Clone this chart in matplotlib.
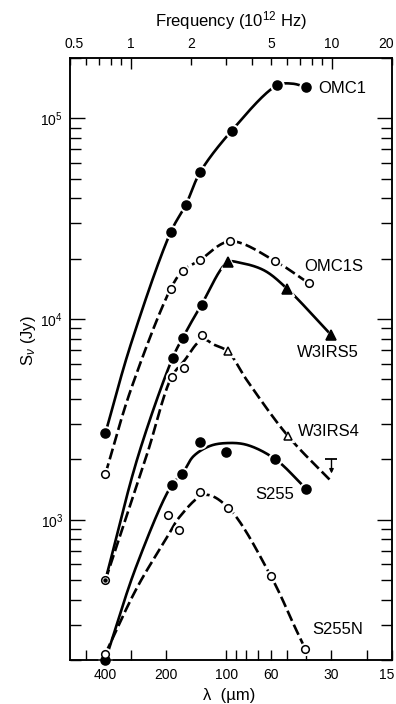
import numpy as np
import matplotlib
matplotlib.use('Agg')
import matplotlib.pyplot as plt
from matplotlib.transforms import ScaledTranslation

plt.rcParams['font.family'] = ['Liberation Sans', 'DejaVu Sans']
plt.rcParams['mathtext.fontset'] = 'custom'
plt.rcParams['mathtext.rm'] = 'Liberation Sans'
plt.rcParams['mathtext.it'] = 'Liberation Sans:italic'

# measured points (wavelength in um, flux in Jy)
omc1_lam = [400, 189, 159, 135, 94, 56, 40]
omc1_s = [2700, 27200, 37200, 54000, 87000, 146000, 143000]

omc1s_lam = [400, 189, 165, 136, 96, 57, 39]
omc1s_s = [1690, 14200, 17400, 19600, 24400, 19400, 15100]

w3irs5_circ_lam = [185, 165, 133]
w3irs5_circ_s = [6420, 8070, 11800]
w3irs5_tri_lam = [98.5, 50, 30]
w3irs5_tri_s = [19200, 14200, 8300]

w3irs4_circ_lam = [187, 163, 133]
w3irs4_circ_s = [5160, 5690, 8300]
w3irs4_tri_lam = [98.5, 49.5]
w3irs4_tri_s = [6900, 2620]
w3irs4_limit = (30, 2000)

w3_shared_lam = [400]
w3_shared_s = [500]

s255_lam = [400, 187, 166, 135, 100, 57, 40]
s255_s = [200, 1490, 1690, 2440, 2180, 2000, 1420]

s255n_lam = [400, 196, 172, 135, 98, 60, 40.6]
s255n_s = [215, 1050, 885, 1380, 1150, 522, 228]

# hand-drawn curves
omc1_curve_lam = [400, 300, 189, 159, 135, 94, 56, 47, 40]
omc1_curve_s = [2700, 7400, 27200, 37200, 54000, 87000, 146000, 149000, 143000]

omc1s_curve_lam = [400, 300, 189, 165, 136, 96, 57, 39]
omc1s_curve_s = [1690, 4400, 14200, 17400, 19600, 24400, 19400, 15100]

w3irs5_curve_lam = [400, 274, 185, 165, 133, 98.5, 86, 65, 50, 30]
w3irs5_curve_s = [500, 2100, 6420, 8070, 11800, 19200, 19100, 17500, 14200, 8300]

w3irs4_curve_lam = [400, 249, 187, 161, 138, 128, 116, 98.5, 79, 49.5, 30]
w3irs4_curve_s = [500, 2100, 5160, 6250, 7660, 7900, 7480, 6900, 4950, 2620, 1550]

s255_curve_lam = [400, 280, 187, 166, 146, 121, 100, 79, 57, 40]
s255_curve_s = [200, 590, 1490, 1690, 2070, 2330, 2410, 2360, 2000, 1420]

s255n_curve_lam = [400, 279, 198, 170, 128, 98, 60, 45.5, 40.6]
s255n_curve_s = [215, 457, 813, 1040, 1330, 1150, 522, 290, 228]

freq_major = [1, 10]
freq_minor = [0.5, 0.6, 0.7, 0.8, 0.9, 2, 3, 4, 5, 6, 7, 8, 9, 20]
freq_minor_labels = ['0.5', '', '', '', '', '2', '', '', '5', '', '', '', '', '20']
lam_major = [400, 200, 100, 60, 30, 15]
lam_minor = [500, 300, 90, 80, 70, 50, 40, 20]


def smooth(lam, s, n=40):
    # centripetal catmull-rom through the knots, in log-log space
    P = np.column_stack([np.log10(lam), np.log10(s)])
    P = np.vstack([2 * P[0] - P[1], P, 2 * P[-1] - P[-2]])
    out = []
    for i in range(1, len(P) - 2):
        p0, p1, p2, p3 = P[i - 1:i + 3]
        t0 = 0
        t1 = t0 + np.linalg.norm(p1 - p0) ** 0.5
        t2 = t1 + np.linalg.norm(p2 - p1) ** 0.5
        t3 = t2 + np.linalg.norm(p3 - p2) ** 0.5
        t = np.linspace(t1, t2, n)[:, None]
        a1 = (t1 - t) / (t1 - t0) * p0 + (t - t0) / (t1 - t0) * p1
        a2 = (t2 - t) / (t2 - t1) * p1 + (t - t1) / (t2 - t1) * p2
        a3 = (t3 - t) / (t3 - t2) * p2 + (t - t2) / (t3 - t2) * p3
        b1 = (t2 - t) / (t2 - t0) * a1 + (t - t0) / (t2 - t0) * a2
        b2 = (t3 - t) / (t3 - t1) * a2 + (t - t1) / (t3 - t1) * a3
        out.append((t2 - t) / (t2 - t1) * b1 + (t - t1) / (t2 - t1) * b2)
    out = 10 ** np.vstack(out)
    return out[:, 0], out[:, 1]


fig = plt.figure(figsize=(3.96, 7.04), dpi=100)
ax = fig.add_axes([70 / 396, 44 / 704, 322 / 396, 602 / 704])
ax.set_xscale('log')
ax.set_yscale('log')
ax.set_xlim(600, 15)
ax.set_ylim(200, 2e5)


def curve(lam, s, dashed=False):
    x, y = smooth(lam, s)
    kw = dict(dashes=(4.2, 1.6)) if dashed else {}
    ax.plot(x, y, color='k', lw=1.9, solid_capstyle='butt',
            dash_capstyle='butt', zorder=2, **kw)


def marks(lam, s, marker, filled, ms):
    ax.plot(lam, s, ls='none', marker=marker, ms=ms + 3, mfc='white',
            mec='white', zorder=3, clip_on=False)
    ax.plot(lam, s, ls='none', marker=marker, ms=ms,
            mfc='k' if filled else 'white', mec='k', mew=1.1,
            zorder=4, clip_on=False)


curve(omc1_curve_lam, omc1_curve_s)
curve(omc1s_curve_lam, omc1s_curve_s, dashed=True)
curve(w3irs5_curve_lam, w3irs5_curve_s)
curve(w3irs4_curve_lam, w3irs4_curve_s, dashed=True)
curve(s255_curve_lam, s255_curve_s)
curve(s255n_curve_lam, s255n_curve_s, dashed=True)

marks(omc1_lam, omc1_s, 'o', True, 6.5)
marks(omc1s_lam, omc1s_s, 'o', False, 5.5)
marks(w3irs5_circ_lam, w3irs5_circ_s, 'o', True, 6.5)
marks(w3irs5_tri_lam, w3irs5_tri_s, '^', True, 6.5)
marks(w3irs4_circ_lam, w3irs4_circ_s, 'o', False, 5.5)
marks(w3irs4_tri_lam, w3irs4_tri_s, '^', False, 5.5)
marks(w3_shared_lam, w3_shared_s, 'o', False, 5.5)
ax.plot(w3_shared_lam, w3_shared_s, 'o', ms=2.2, color='k', zorder=5)
marks(s255_lam, s255_s, 'o', True, 6.5)
marks(s255n_lam, s255n_s, 'o', False, 5.5)

# upper limit
ax.plot([w3irs4_limit[0]], [w3irs4_limit[1]], marker='_', ms=8, mew=1.3,
        color='k', zorder=4)
ax.annotate('', xy=(w3irs4_limit[0], w3irs4_limit[1] * 0.85),
            xytext=(w3irs4_limit[0], w3irs4_limit[1]),
            arrowprops=dict(arrowstyle='-|>', lw=1, color='k',
                            mutation_scale=6, shrinkA=0, shrinkB=0))

lab = dict(fontsize=12, va='center', ha='left')
ax.text(35, 1.41e5, 'OMC1', **lab)
ax.text(40.8, 1.82e4, 'OMC1S', **lab)
ax.text(44.4, 6.85e3, 'W3IRS5', **lab)
ax.text(44, 2.74e3, 'W3IRS4', **lab)
ax.text(72, 1.33e3, 'S255', **lab)
ax.text(37.4, 284, 'S255N', **lab)

ax.set_xticks(lam_major, [str(v) for v in lam_major])
ax.set_xticks(lam_minor, minor=True)
ax.xaxis.set_minor_formatter(matplotlib.ticker.NullFormatter())
ax.yaxis.set_minor_formatter(matplotlib.ticker.NullFormatter())
ax.tick_params(axis='x', which='both', direction='in', length=7, width=1,
               labelsize=10, pad=6, top=False)
ax.tick_params(axis='y', which='major', direction='in', length=10.8, width=1,
               labelsize=10, pad=5, right=True)
ax.tick_params(axis='y', which='minor', direction='in', length=8, width=1,
               right=True)

axt = ax.twiny()
axt.set_xscale('log')
axt.set_xlim(299.79 / 600, 299.79 / 15)
axt.set_xticks(freq_major, [str(v) for v in freq_major])
axt.set_xticks(freq_minor, freq_minor_labels, minor=True)
axt.tick_params(which='major', direction='in', length=8, width=1,
                labelsize=10, pad=5)
axt.tick_params(which='minor', direction='in', length=5, width=1,
                labelsize=10, pad=5)

for a in (ax, axt):
    for sp in a.spines.values():
        sp.set_linewidth(1.1)

ax.set_xlabel('λ  (µm)', fontsize=12)
ax.xaxis.set_label_coords(0.494, -0.047)
ax.set_ylabel(r'S$_{\nu}$ (Jy)', fontsize=12)
ax.yaxis.set_label_coords(-0.1, 0.53)
axt.set_xlabel(r'Frequency ($\mathregular{10^{12}}$ Hz)', fontsize=12,
               labelpad=8)

# nudge the edge labels inside the figure, as in the original
fig.canvas.draw()
def nudge(label, dx):
    label.set_transform(label.get_transform() +
                        ScaledTranslation(dx / 100, 0, fig.dpi_scale_trans))

for lbl in ax.get_xticklabels():
    if lbl.get_text() == '15':
        nudge(lbl, -5)
for lbl in axt.get_xticklabels(minor=True):
    if lbl.get_text() == '20':
        nudge(lbl, -6)
    if lbl.get_text() == '0.5':
        nudge(lbl, 4)

fig.savefig('out.png', dpi=100)
